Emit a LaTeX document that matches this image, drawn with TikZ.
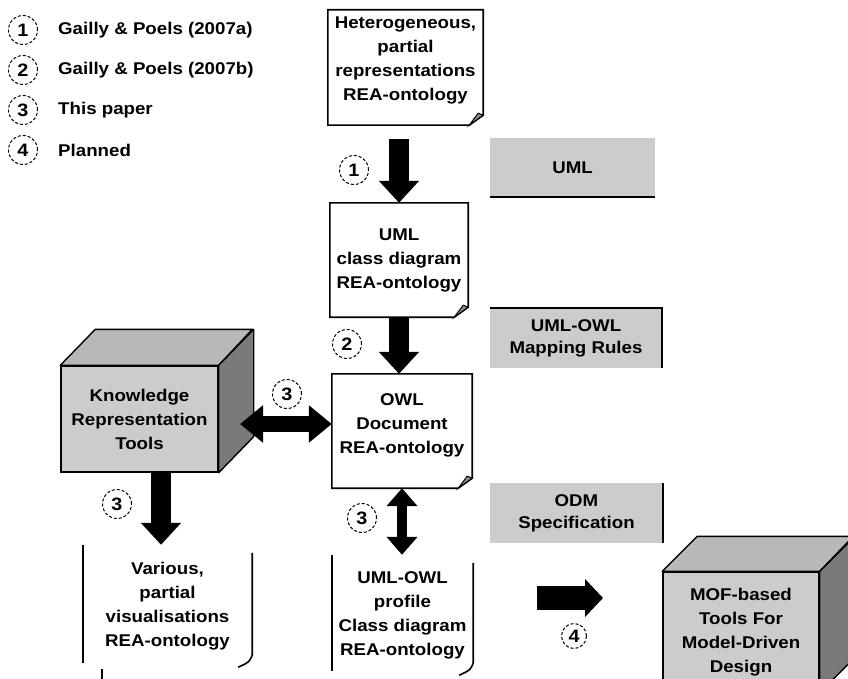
\documentclass[tikz,border=0pt]{standalone}
\usepackage{fontspec}
\setmainfont{Liberation Sans}[FakeStretch=1.1]
\usepackage{tikz}
\usetikzlibrary{arrows.meta,calc,positioning}
\tikzset{
  doctxt/.style={align=center,inner sep=0pt,font=\bfseries\fontsize{17}{24}\selectfont},
  docframe/.style={draw=black,line width=1.6pt},
  docfold/.style={fill=black!45,draw=black,line width=1pt},
  graybox/.style={fill=black!20,align=center,inner sep=0pt,
    font=\bfseries\fontsize{17}{22}\selectfont},
  grayedge/.style={line width=1.8pt},
  boxfront/.style={fill=black!20,draw=black,line width=1.4pt,align=center,
    inner sep=0pt,font=\bfseries\fontsize{17}{24}\selectfont},
  boxtop/.style={fill=black!28,draw=black,line width=1.4pt,line join=round},
  boxside/.style={fill=black!52,draw=black,line width=1.4pt,line join=round},
  stepnum/.style={circle,draw=black,dash pattern=on 3pt off 2pt,line width=1pt,
    minimum size=29pt,inner sep=0pt,font=\bfseries\fontsize{18}{18}\selectfont},
  legtxt/.style={anchor=west,inner sep=0pt,font=\bfseries\fontsize{17}{20}\selectfont},
  bigflow/.style={line width=20pt,-{Triangle[length=22pt,width=39pt]}},
  bigboth/.style={line width=16pt,{Triangle[length=23pt,width=36pt]}-{Triangle[length=23pt,width=36pt]}},
  smallboth/.style={line width=10pt,{Triangle[length=18pt,width=30pt]}-{Triangle[length=18pt,width=30pt]}},
  planflow/.style={line width=24pt,-{Triangle[length=18pt,width=37pt]}},
}
\begin{document}
\begin{tikzpicture}[x=1pt,y=-1pt]
  \useasboundingbox (0,0) rectangle (848,679);
  \clip (0,0) rectangle (848,679);

  % legend
  \foreach \i/\y/\t in {1/30/{Gailly \& Poels (2007a)},2/70/{Gailly \& Poels (2007b)},
                        3/110/{This paper},4/150/{Planned}}{
    \node[stepnum] (leg\i) at (23,\y) {\i};
    \node[legtxt,right=20pt of leg\i] (legtxt\i) {\t};
  }

  % documents
  \node[doctxt,minimum width=155pt,minimum height=115pt] (hetero) at (405.5,67.5)
    {Heterogeneous,\\partial\\representations\\REA-ontology\\[-6pt]};
  \node[doctxt,minimum width=138pt,minimum height=114pt] (umlcd) at (399,260)
    {UML\\class diagram\\REA-ontology};
  \node[doctxt,minimum width=140pt,minimum height=114pt] (owldoc) at (402,431)
    {OWL\\Document\\REA-ontology\\[-10pt]};
  \node[doctxt,minimum width=169pt,minimum height=122pt] (various) at (167.5,606)
    {Various,\\partial\\visualisations\\REA-ontology};
  \node[doctxt,minimum width=141pt,minimum height=120pt] (profile) at (402.5,615)
    {UML-OWL\\profile\\Class diagram\\REA-ontology};

  \foreach \d in {hetero,umlcd,owldoc}{
    \draw[docframe] (\d.north west) -- (\d.north east) -- ([yshift=10pt]\d.south east)
      -- ([xshift=-14pt]\d.south east) -- (\d.south west) -- cycle;
    \draw[docfold] ([xshift=-14pt]\d.south east) -- ([xshift=-5pt,yshift=12pt]\d.south east)
      -- ([yshift=10pt]\d.south east) -- cycle;
  }
  \foreach \d in {various,profile}{
    \draw[docframe] (\d.north west) -- ([yshift=4pt]\d.south west);
    \draw[docframe] ([yshift=-8pt]\d.north east) -- ([yshift=12pt]\d.south east)
      .. controls ([xshift=-3pt,yshift=5pt]\d.south east) .. ([xshift=-14pt]\d.south east);
  }
  \draw[docframe] ([xshift=19pt,yshift=-2pt]various.south west)
    -- ([xshift=19pt,yshift=-16pt]various.south west);

  % specification boxes
  \node[graybox,minimum width=165pt,minimum height=59pt] (umlspec) at (572.5,167.5) {UML};
  \draw[grayedge] (umlspec.south west) -- (umlspec.south east);
  \node[graybox,minimum width=172pt,minimum height=60pt] (maprules) at (576,338)
    {UML-OWL\\Mapping Rules};
  \draw[grayedge] (maprules.north west) -- (maprules.north east) -- (maprules.south east);
  \node[graybox,minimum width=173pt,minimum height=60pt] (odmspec) at (576.5,513)
    {ODM\\Specification};
  \draw[grayedge] (odmspec.north east) -- (odmspec.south east);

  % tool boxes
  \node[boxfront,minimum width=157pt,minimum height=106pt] (kr) at (139.5,419)
    {Knowledge\\Representation\\Tools};
  \draw[boxtop] (kr.north west) -- ++(35,-36) -- ++(157,0) -- (kr.north east) -- cycle;
  \draw[boxside] (kr.north east) -- ++(35,-36) -- ([shift={(35,-36)}]kr.south east)
    -- (kr.south east) -- cycle;
  \node[boxfront,minimum width=156pt,minimum height=120pt] (mof) at (741,632)
    {MOF-based\\Tools For\\Model-Driven\\Design};
  \draw[boxtop] (mof.north west) -- ++(35,-35) -- ++(156,0) -- (mof.north east) -- cycle;
  \draw[boxside] (mof.north east) -- ++(35,-35) -- ([shift={(35,-35)}]mof.south east)
    -- (mof.south east) -- cycle;

  % arrows
  \coordinate (krface) at (240,424);
  \coordinate (planfrom) at (537,598);
  \coordinate (planto) at (603,598);
  \draw[bigflow,shorten <=14pt] (umlcd.north |- hetero.south) -- (umlcd.north);
  \draw[bigflow] (umlcd.south) -- (umlcd.south |- owldoc.north);
  \draw[bigboth] (krface) -- (krface -| owldoc.west);
  \draw[bigflow] ([xshift=21.5pt]kr.south) -- ([xshift=21.5pt]kr.south |- various.north);
  \draw[smallboth] (owldoc.south) -- (owldoc.south |- profile.north);
  \draw[planflow] (planfrom) -- (planto);

  % step labels
  \node[stepnum] (s1) at (354,170) {1};
  \node[stepnum] (s2) at (347,344) {2};
  \node[stepnum] (s3a) at (287,394) {3};
  \node[stepnum] (s3b) at (117,504) {3};
  \node[stepnum] (s3c) at (362,518) {3};
  \node[stepnum,minimum size=25pt] (s4) at (574,636) {4};
\end{tikzpicture}
\end{document}
